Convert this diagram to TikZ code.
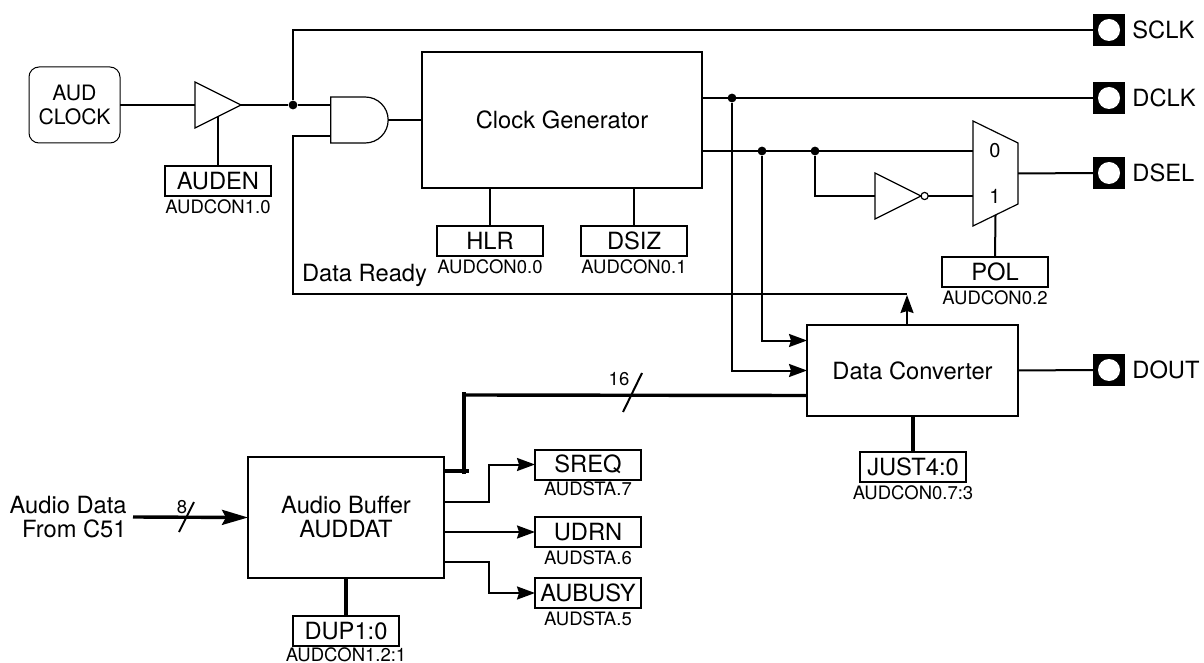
\documentclass[tikz,border=0pt]{standalone}
\usepackage{fontspec}
\setmainfont{TeX Gyre Heros}
\usepackage{tikz}
\usetikzlibrary{arrows.meta,positioning,shapes.geometric,shapes.gates.logic.US}
\tikzset{
    blockbox/.style={draw, line width=1pt, outer sep=0pt, align=center, font=\fontsize{11.85}{12}\selectfont},
    regbox/.style={draw, line width=1pt, outer sep=0pt, inner sep=0pt, minimum width=53pt, minimum height=15pt, font=\fontsize{11.85}{12}\selectfont},
    regtext/.style={inner sep=0pt, font=\fontsize{9.25}{10}\selectfont},
    plaintext/.style={inner sep=0pt, align=center, font=\fontsize{11.85}{12}\selectfont},
    padbox/.style={fill=black, outer sep=0pt, inner sep=0pt, minimum size=16pt},
    padhole/.style={circle, fill=white, inner sep=0pt, minimum size=11pt},
    junction/.style={circle, fill=black, inner sep=0pt, minimum size=4.4pt},
    buffgate/.style={isosceles triangle, isosceles triangle stretches, draw, line width=0.6pt, outer sep=0pt, inner sep=0pt, minimum width=23pt, minimum height=23pt},
    wire/.style={line width=1pt},
    buswire/.style={line width=1.7pt},
    wirearrow/.style={line width=1pt, -{Stealth[length=9pt, width=6.5pt, inset=1pt]}},
    busarrow/.style={line width=1.7pt, -{Stealth[length=13pt, width=7.5pt, inset=2pt]}}
}
\begin{document}
\begin{tikzpicture}[x=0.5pt, y=-0.5pt]
        \useasboundingbox (0,0) rectangle (1204,663);

        % top row
        \node[blockbox, draw, line width=0.5pt, rounded corners=5pt, minimum width=45.5pt, minimum height=38pt, inner sep=0pt, font=\fontsize{10.6}{12}\selectfont] (audclock) at (74.5,105) {AUD\\CLOCK};
        \node[buffgate, anchor=lower side] (clkbuf) at (195,105) {};
        \node[regbox] (auden) at (218,181) {AUDEN};
        \node[regtext, below=1.5pt of auden] (audenreg) {AUDCON1.0};
        \node[junction] (clkdot) at (293,105) {};
        \node[and gate US, draw, line width=0.6pt, logic gate inputs=nn, outer sep=0pt, inner sep=0pt, minimum width=26.5pt, minimum height=23pt, anchor=center] (clkand) at (357.5,120) {};
        \node[blockbox, minimum width=140pt, minimum height=68pt] (clkgen) at (562,120) {Clock Generator};
        \node[regbox] (hlr) at (490,241) {HLR};
        \node[regtext, below=1.5pt of hlr] (hlrreg) {AUDCON0.0};
        \node[regbox] (dsiz) at (634,241) {DSIZ};
        \node[regtext, below=1.5pt of dsiz] (dsizreg) {AUDCON0.1};
        \node[plaintext] (dataready) at (364.5,275) {Data Ready};

        % output pads
        \node[padbox] (sclkpad) at (1109,30) {};
        \node[padhole] (sclkhole) at (sclkpad) {};
        \node[plaintext, right=3.5pt of sclkpad] (sclktext) {SCLK};
        \node[padbox] (dclkpad) at (1109,98) {};
        \node[padhole] (dclkhole) at (dclkpad) {};
        \node[plaintext, right=3.5pt of dclkpad] (dclktext) {DCLK};
        \node[padbox] (dselpad) at (1109,173) {};
        \node[padhole] (dselhole) at (dselpad) {};
        \node[plaintext, right=3.5pt of dselpad] (dseltext) {DSEL};
        \node[padbox] (doutpad) at (1109,370) {};
        \node[padhole] (douthole) at (doutpad) {};
        \node[plaintext, right=3.5pt of doutpad] (douttext) {DOUT};

        % polarity mux
        \node[junction] (dclkdot) at (732,98) {};
        \node[junction] (dseldot) at (762,151) {};
        \node[junction] (invdot) at (815,151) {};
        \node[buffgate, anchor=lower side] (inverter) at (875,196) {};
        \node[circle, draw, line width=0.6pt, outer sep=0pt, inner sep=0pt, minimum size=3.6pt, right=0pt of inverter.apex] (invbubble) {};
        \node[outer sep=0pt, inner sep=0pt, minimum width=22.5pt, minimum height=52.5pt] (polmux) at (995.5,173.5) {};
        \draw[line width=0.6pt] (polmux.north west) -- ([yshift=-11pt]polmux.north east) -- ([yshift=11pt]polmux.south east) -- (polmux.south west) -- cycle;
        \node[plaintext, font=\fontsize{10}{12}\selectfont] (muxzero) at (995,151) {0};
        \node[plaintext, font=\fontsize{10}{12}\selectfont] (muxone) at (995,196) {1};
        \node[regbox] (pol) at (995,272) {POL};
        \node[regtext, below=1.5pt of pol] (polreg) {AUDCON0.2};

        % data path
        \node[blockbox, minimum width=105.5pt, minimum height=45.5pt] (dataconv) at (912.5,370.5) {Data Converter};
        \node[regbox] (just) at (913,467) {JUST4:0};
        \node[regtext, below=1.5pt of just] (justreg) {AUDCON0.7:3};
        \node[blockbox, minimum width=98pt, minimum height=60.5pt] (audbuf) at (346,517.5) {Audio Buffer\\AUDDAT};
        \node[regbox] (dup) at (346,631) {DUP1:0};
        \node[regtext, below=0.4pt of dup] (dupreg) {AUDCON1.2:1};
        \node[regbox] (sreq) at (588,464.5) {SREQ};
        \node[regtext, below=1pt of sreq] (sreqreg) {AUDSTA.7};
        \node[regbox] (udrn) at (588,532) {UDRN};
        \node[regtext, below=1.5pt of udrn] (udrnreg) {AUDSTA.6};
        \node[regbox] (aubusy) at (588,593) {AUBUSY};
        \node[regtext, below=1.5pt of aubusy] (aubusyreg) {AUDSTA.5};
        \node[plaintext, align=right, anchor=east] (audioin) at (127,517) {Audio Data\\From C51};
        \coordinate (audiostart) at (133,517);
        \node[regtext] (widtheight) at (182,507) {8};
        \node[regtext] (widthsixteen) at (619,379) {16};
        \coordinate (busturn) at (464,395);
        \coordinate (busstub) at (469,471);

        \draw[wire] (audclock.east) -- (clkbuf.lower side);
        \draw[wire] (clkbuf.apex) -- (clkdot);
        \draw[wire] (auden.north) -- (clkbuf.right side);
        \draw[wire] (clkdot) -- ([yshift=7.5pt]clkand.west);
        \draw[wire] (clkdot) |- (sclkpad.west);
        \draw[wire] (clkand.output) -- (clkgen.west);
        \draw[wire] (hlr.north) -- (hlr.north |- clkgen.south);
        \draw[wire] (dsiz.north) -- (dsiz.north |- clkgen.south);
        \draw[wire] ([yshift=-8pt]clkand.west) -| (clkdot |- dataready.south) |- (907,294);
        \draw[wirearrow] (907,325) -- (907,295);

        \draw[wire] (clkgen.east |- dclkpad) -- (dclkpad.west);
        \draw[wire] (clkgen.east |- dseldot) -- (polmux.west |- dseldot);
        \draw[wire] (invdot) |- (inverter.lower side);
        \draw[wire] (invbubble.east) -- (polmux.west |- invbubble);
        \draw[wire] (polmux.east) -- (dselpad.west);
        \draw[wire] (pol.north) -- ([yshift=5.5pt]polmux.south);
        \draw[wirearrow] (dclkdot) |- (dataconv.west);
        \draw[wirearrow] (dseldot) |- ([yshift=15pt]dataconv.west);

        \draw[wire] (dataconv.east) -- (doutpad.west);
        \draw[buswire] (just.north) -- (dataconv.south -| just.north);
        \draw[buswire] ([yshift=-12.5pt]dataconv.west) -- (busturn);
        \draw[buswire] ([yshift=1.5pt]busturn) -- (busturn |- 0,474);
        \draw[buswire] (audbuf.east |- busstub) -- (busstub);
        \draw[wire] (642,373) -- (623,412);

        \draw[busarrow] (audiostart) -- (audbuf.west);
        \draw[wire] (194,502) -- (179,532);
        \draw[buswire] (dup.north) -- (audbuf.south);
        \draw[wirearrow] (audbuf.east |- 0,502) -| (489,464.5) -- (sreq.west);
        \draw[wirearrow] (audbuf.east |- udrn) -- (udrn.west);
        \draw[wirearrow] (audbuf.east |- 0,562) -| (489,593) -- (aubusy.west);
\end{tikzpicture}
\end{document}
